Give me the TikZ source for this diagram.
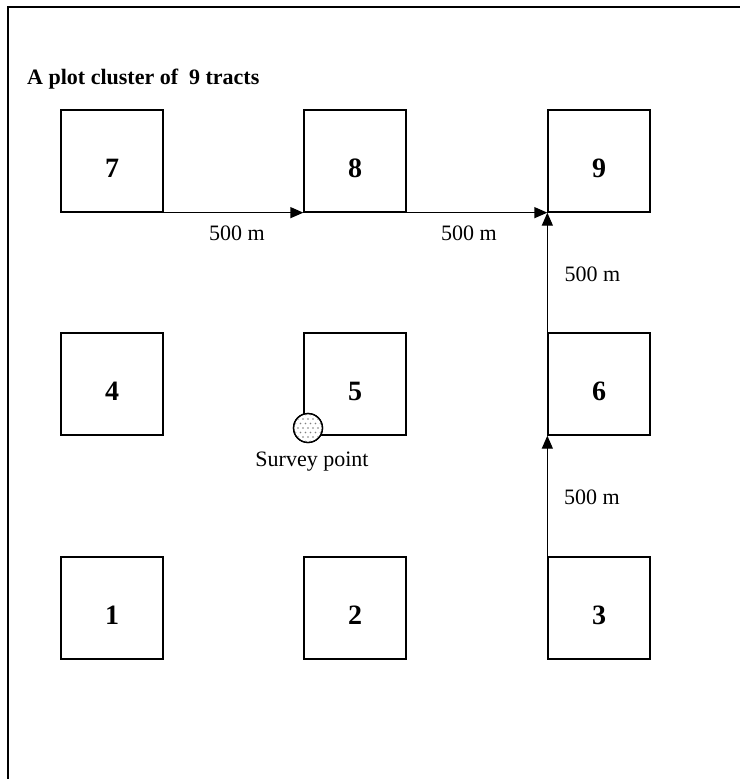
\documentclass[tikz,border=0pt]{standalone}
\usepackage{fontspec}
\setmainfont{Liberation Serif}
\usetikzlibrary{arrows.meta,calc}
\begin{document}
\begin{tikzpicture}[x=1pt,y=-1pt,
  tract/.style={draw,line width=1.3pt,minimum width=102pt,minimum height=102pt,inner sep=0pt},
  num/.style={anchor=base,font=\fontsize{28}{30}\selectfont\bfseries},
  link/.style={line width=1.3pt,-{Triangle[length=13pt,width=11pt]}},
  dist/.style={anchor=base,font=\fontsize{22}{24}\selectfont},
  every node/.style={inner sep=0pt}]
\useasboundingbox (0,0) rectangle (740,779);
\draw[line width=1.5pt] (8,779) -- (8,7) -- (740,7);
\node[anchor=base west,font=\fontsize{22}{24}\selectfont\bfseries] (title) at (27,84) {A plot cluster of~~9 tracts};
\node[tract] (t7) at (112,161) {};
\node[tract] (t8) at (355,161) {};
\node[tract] (t9) at (599,161) {};
\node[tract] (t4) at (112,384) {};
\node[tract] (t5) at (355,384) {};
\node[tract] (t6) at (599,384) {};
\node[tract] (t1) at (112,608) {};
\node[tract] (t2) at (355,608) {};
\node[tract] (t3) at (599,608) {};
\foreach \n in {1,...,9}{
  \node[num] (n\n) at ([yshift=-68pt]t\n.north) {\n};
}
\draw[link] (t7.south east) -- (t8.south west);
\draw[link] (t8.south east) -- (t9.south west);
\draw[link] (t3.north west) -- (t6.south west);
\draw[link] (t6.north west) -- (t9.south west);
\node[dist] (d78) at (237,240) {500 m};
\node[dist] (d89) at (469,240) {500 m};
\node[dist] (d69) at (592.5,281) {500 m};
\node[dist] (d36) at (592,504) {500 m};
\node[circle,draw,line width=1.3pt,minimum size=29pt,fill=white] (sp) at (308,428) {};
\begin{scope}
  \clip (sp.center) circle (13.5pt);
  \foreach \j in {-3,...,3}{
    \pgfmathsetmacro{\off}{isodd(\j+10)*2.5}
    \foreach \i in {-3,...,3}{
      \fill[gray] ($(sp.center)+({\i*5+\off},{\j*4.5})$) circle (0.8pt);
    }
  }
\end{scope}
\draw[line width=1.3pt] (sp.center) circle (14.5pt);
\node[dist] (spl) at (312,466) {Survey point};
\end{tikzpicture}
\end{document}
